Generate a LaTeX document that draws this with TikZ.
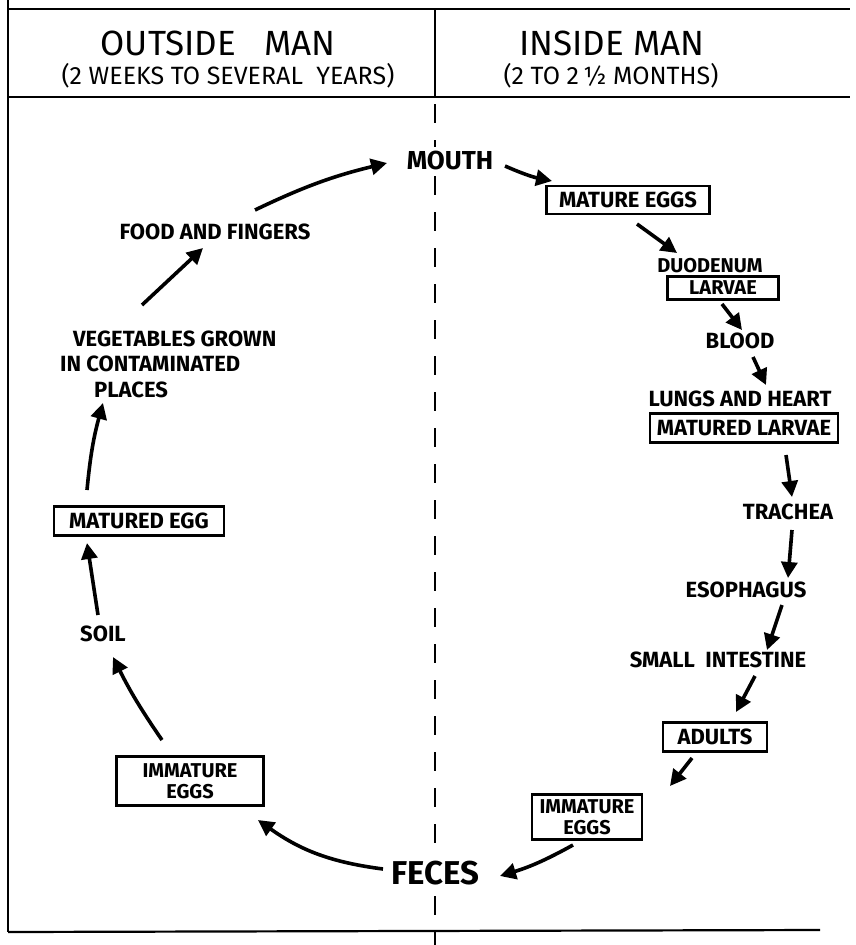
\documentclass[tikz,border=0pt]{standalone}
\usepackage{fontspec}
\setmainfont{Fira Sans}
\usetikzlibrary{arrows.meta,calc}
\tikzset{
  lab/.style={font=\fontsize{22}{24}\selectfont\bfseries, inner sep=1pt, align=center},
  boxed/.style={font=\fontsize{22}{22}\selectfont\bfseries, align=center, draw, line width=2.4pt, inner xsep=3pt, inner ysep=1pt},
  boxedtwo/.style={boxed, font=\fontsize{20}{21}\selectfont\bfseries},
  arr/.style={line width=3.6pt, -{Triangle[length=16pt,width=16pt]}},
  frame/.style={line width=2.2pt},
  head/.style={font=\fontsize{35}{37}\selectfont, inner sep=0pt},
  sub/.style={font=\fontsize{25}{27}\selectfont, inner sep=0pt}
}
\begin{document}
\begin{tikzpicture}[x=1pt,y=-1pt]
\useasboundingbox (0,0) rectangle (855,945);
% frame
\draw[frame] (8,0) -- (8,932);
\draw[frame] (8,9) -- (850,9);
\draw[frame] (8,97) -- (850,97);
\draw[frame] (8,932) -- (820,930);
\draw[frame] (435,9) -- (435,97);
\draw[line width=2.6pt, dash pattern=on 19pt off 17pt] (435,104) -- (435,945);
% headers
\node[head] (hout) at (218,43) {OUTSIDE\ \ \ MAN};
\node[sub]  (sout) at (228,76) {(2 WEEKS TO SEVERAL\ \ YEARS)};
\node[head] (hin)  at (612,43) {INSIDE MAN};
\node[sub]  (sin)  at (611,76) {(2 TO 2\,\textonehalf\ MONTHS)};
% inside nodes
\node[lab, fill=white, inner sep=4pt, font=\fontsize{26}{28}\selectfont\bfseries] (mouth) at (450,160) {MOUTH};
\node[boxed, minimum width=163pt, minimum height=28pt] (meggs) at (628,200) {MATURE EGGS};
\node[lab, font=\fontsize{20}{22}\selectfont\bfseries] (duod) at (710,266) {DUODENUM};
\node[boxed, font=\fontsize{20}{21}\selectfont\bfseries, minimum width=111pt, minimum height=23pt] (larvae) at (723,288) {LARVAE};
\node[lab] (blood) at (740,341) {BLOOD};
\node[lab] (lungs) at (740,399) {LUNGS AND HEART};
\node[boxed, minimum width=188pt, minimum height=29pt] (mlarvae) at (744,428) {MATURED LARVAE};
\node[lab] (trachea) at (788,512) {TRACHEA};
\node[lab] (esoph) at (746,590) {ESOPHAGUS};
\node[lab] (smallint) at (718,660) {SMALL\ \ INTESTINE};
\node[boxed, minimum width=104pt, minimum height=29pt] (adults) at (715,737) {ADULTS};
\node[boxedtwo, minimum width=110pt, minimum height=45pt] (imright) at (587,817) {IMMATURE\\EGGS};
\node[lab, fill=white, inner sep=5pt, font=\fontsize{33}{35}\selectfont\bfseries] (feces) at (435,873) {FECES};
% outside nodes
\node[boxedtwo, minimum width=147pt, minimum height=49pt] (imleft) at (190,781) {IMMATURE\\EGGS};
\node[lab] (soil) at (103,634) {SOIL};
\node[boxed, minimum width=170pt, minimum height=29pt] (megg) at (139,521) {MATURED EGG};
\node[lab, align=left, anchor=west, font=\fontsize{22}{25.5}\selectfont\bfseries] (veg) at (59,364) {\hspace*{13pt}VEGETABLES GROWN\\IN CONTAMINATED\\\hspace*{34pt}PLACES};
\node[lab] (food) at (215,232) {FOOD AND FINGERS};
% arrows inside
\draw[arr] ($(mouth)+(55,6)$) to[bend right=6] ($(meggs)+(-76,-19)$);
\draw[arr] ($(meggs)+(9,24)$) -- ($(duod)+(-33,-13)$);
\draw[arr] ($(larvae)+(-1,16)$) -- ($(blood)+(2,-11)$);
\draw[arr] ($(blood)+(13,16)$) -- ($(lungs)+(26,-14)$);
\draw[arr] ($(mlarvae)+(42,27)$) -- ($(trachea)+(4,-15)$);
\draw[arr] ($(trachea)+(4,18)$) -- ($(esoph)+(42,-12)$);
\draw[arr] ($(esoph)+(36,15)$) -- ($(smallint)+(49,-10)$);
\draw[arr] ($(smallint)+(37,16)$) -- ($(adults)+(21,-25)$);
\draw[arr] ($(adults)+(-23,21)$) -- ($(imright)+(83,-31)$);
\draw[arr] ($(imright)+(-14,28)$) to[bend left=6] ($(feces)+(65,3)$);
% arrows outside
\draw[arr] ($(feces)+(-52,-4)$) to[bend left=14] ($(imleft)+(68,39)$);
\draw[arr] ($(imleft)+(-28,-41)$) to[bend left=4] ($(soil)+(10,23)$);
\draw[arr] ($(soil)+(-5,-19)$) -- ($(megg)+(-52,22)$);
\draw[arr] ($(megg)+(-52,-31)$) to[bend left=5] ($(veg.west)+(44,39)$);
\draw[arr] ($(veg.west)+(83,-59)$) -- ($(food)+(-12,16)$);
\draw[arr] ($(food)+(40,-22)$) to[bend left=6] ($(mouth)+(-63,3)$);
\end{tikzpicture}
\end{document}
